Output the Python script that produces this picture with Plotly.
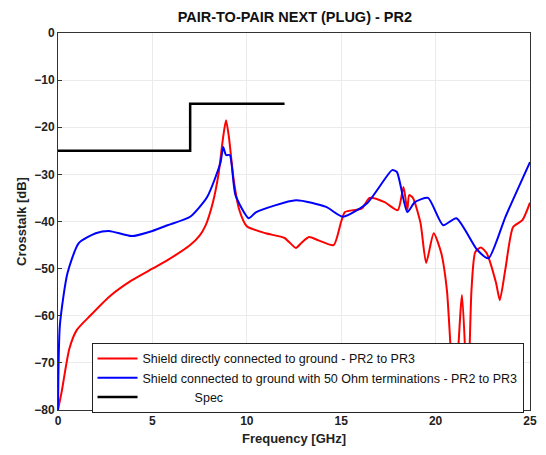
import plotly.graph_objects as go

red_x = [0, 0.2, 0.6, 1.0, 1.7, 2.7, 3.9, 5.0, 5.8, 7.0, 7.5, 7.8, 8.2, 8.5, 8.75, 8.9, 9.05, 9.3, 9.6, 10.0,
         11.0, 12.0, 12.6, 12.9, 13.3, 13.8, 14.6, 15.0, 15.2, 16.1, 16.5, 17.3, 18.0, 18.3, 18.5, 18.6, 18.8,
         19.2, 19.5, 19.9, 20.3, 20.6, 21.0, 21.4, 21.7, 21.9, 22.1, 22.4, 22.7, 23.2, 23.4, 23.7, 24.1, 24.6, 25.0]
red_y = [-80, -76, -67, -63, -60, -56, -52.5, -50, -48.2, -45, -43, -41, -36, -30, -22, -18.5, -22, -31, -37.5, -41,
         -42.5, -43.5, -45.6, -44.5, -43.3, -44, -45, -40, -38, -37.2, -35, -35.9, -37.6, -32.7, -37.6, -34.4, -35,
         -40.3, -48.8, -42.5, -46.7, -54.6, -78, -55.6, -78, -54.6, -46.5, -45.5, -46.7, -53, -56.7, -50, -41.2, -39.7, -36]

blue_x = [0, 0.1, 0.5, 1.1, 2.0, 2.7, 3.9, 5.0, 5.8, 7.0, 7.9, 8.6, 8.75, 8.9, 9.1, 9.4, 10.1, 10.5, 12.6, 14.2,
          15.1, 16.4, 17.7, 17.95, 18.5, 18.9, 19.6, 20.4, 21.1, 22.2, 22.8, 23.7, 25.0]
blue_y = [-80, -62, -51, -44.6, -42.5, -42, -43.1, -42, -40.8, -39, -34.8, -27.6, -24.2, -25.9, -25.9, -34.4, -39.3, -38,
          -35.5, -36.9, -39, -36, -29.1, -29.5, -38, -35.9, -35, -40.8, -39.3, -46, -47.8, -39, -27.4]

spec_x = [0, 7, 7, 12]
spec_y = [-25, -25, -15, -15]

names = ["Shield directly connected to ground - PR2 to PR3",
         "Shield connected to ground with 50 Ohm terminations - PR2 to PR3",
         "\u00a0" * 15 + "Spec"]

fig = go.Figure()
fig.add_trace(go.Scatter(x=red_x, y=red_y, mode="lines", name=names[0],
                         line=dict(color="#ff0000", width=2, shape="spline", smoothing=0.6)))
fig.add_trace(go.Scatter(x=blue_x, y=blue_y, mode="lines", name=names[1],
                         line=dict(color="#0000ff", width=2, shape="spline", smoothing=0.6)))
fig.add_trace(go.Scatter(x=spec_x, y=spec_y, mode="lines", name=names[2],
                         line=dict(color="#000000", width=2.5)))

axis_common = dict(showline=True, linecolor="#333", linewidth=1, mirror=True, ticks="inside", ticklen=4,
                   tickcolor="#333", showgrid=True, gridcolor="#ebebeb", zeroline=False,
                   tickfont=dict(family="Liberation Sans, Arial", size=12, color="#222", weight="bold"))
fig.update_layout(
    width=546, height=455,
    margin=dict(l=58, r=9, t=33, b=45),
    paper_bgcolor="white", plot_bgcolor="white",
    title=dict(text="PAIR-TO-PAIR NEXT (PLUG) - PR2", x=0.54, xanchor="center", y=0.963, yanchor="middle",
               font=dict(family="Liberation Sans, Arial", size=14.5, color="#111", weight="bold")),
    xaxis=dict(range=[0, 25], dtick=5, title=dict(text="Frequency [GHz]", standoff=6,
               font=dict(family="Liberation Sans, Arial", size=13, color="#222", weight="bold")), **axis_common),
    yaxis=dict(range=[-80, 0], dtick=10, title=dict(text="Crosstalk [dB]", standoff=4,
               font=dict(family="Liberation Sans, Arial", size=13, color="#222", weight="bold")), **axis_common),
    legend=dict(x=0.071, y=0.178, xanchor="left", yanchor="top", bgcolor="white", bordercolor="#222",
                borderwidth=1, font=dict(family="Liberation Sans, Arial", size=12.5, color="#111"),
                tracegroupgap=0, itemwidth=40),
    showlegend=True,
)
fig.write_html("out.html")
